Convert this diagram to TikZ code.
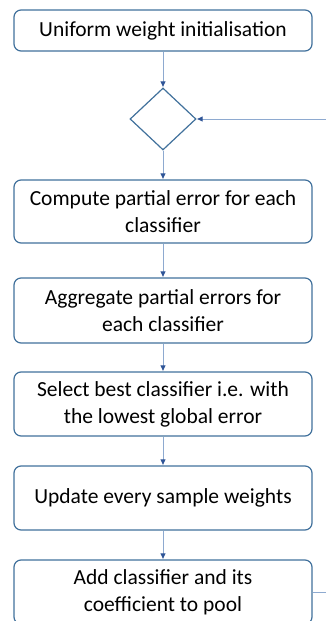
\documentclass[tikz,border=0pt]{standalone}
\usepackage{fontspec}
\setmainfont{Carlito}
\usetikzlibrary{shapes.geometric,arrows.meta}
\definecolor{boxline}{HTML}{41719C}
\definecolor{conline}{HTML}{8EAAD0}
\definecolor{tipcol}{HTML}{2F5597}
\begin{document}
\begin{tikzpicture}[x=1pt,y=-1pt,
  stepbox/.style={draw=boxline,line width=1.2pt,rounded corners=7pt,fill=white,
    minimum width=298pt,align=center,inner sep=0pt,
    font=\fontsize{21.5}{27}\selectfont},
  decision/.style={draw=boxline,line width=1.2pt,diamond,minimum width=66pt,minimum height=62pt,inner sep=0pt},
  conn/.style={draw=conline,line width=0.9pt,-{Latex[length=6pt,width=5.5pt,color=tipcol]}},
  plain/.style={draw=conline,line width=0.9pt}]
\useasboundingbox (0,0) rectangle (326,621);
\clip (0,0) rectangle (326,621);
\node[stepbox,minimum height=41pt] (b1) at (163,30.5) {Uniform weight initialisation};
\node[decision] (d) at (163,119) {};
\node[stepbox,minimum height=63pt] (b2) at (163,211.5) {Compute partial error for each\\ classifier};
\node[stepbox,minimum height=65pt] (b3) at (163,310.5) {Aggregate partial errors for\\ each classifier};
\node[stepbox,minimum height=64pt] (b4) at (163,404) {Select best classifier i.e. with\\ the lowest global error};
\node[stepbox,minimum height=64pt] (b5) at (163,498) {Update every sample weights};
\node[stepbox,minimum height=64pt] (b6) at (163,592) {Add classifier and its\\ coefficient to pool};
\coordinate (fbin) at (326,119);
\coordinate (fbout) at (326,592);
\draw[conn] (b1) -- (d);
\draw[conn] (fbin) -- (d.east);
\draw[conn] (d) -- (b2);
\draw[conn] (b2) -- (b3);
\draw[conn] (b3) -- (b4);
\draw[conn] (b4) -- (b5);
\draw[conn] (b5) -- (b6);
\draw[plain] (b6.east |- fbout) -- (fbout);
\end{tikzpicture}
\end{document}
